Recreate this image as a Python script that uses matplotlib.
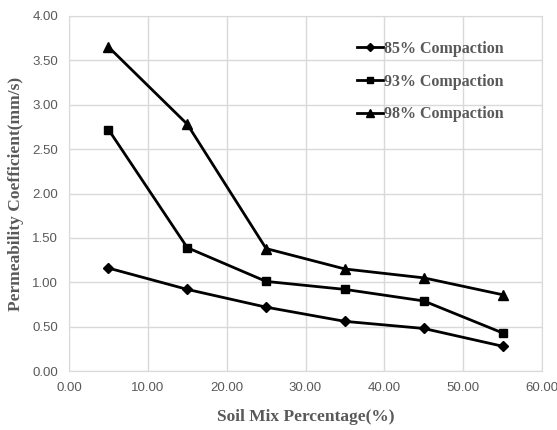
import matplotlib.pyplot as plt
import numpy as np

soil_mix = [5, 15, 25, 35, 45, 55]
k_85 = [1.16, 0.92, 0.72, 0.56, 0.48, 0.28]
k_93 = [2.72, 1.39, 1.01, 0.92, 0.79, 0.43]
k_98 = [3.65, 2.78, 1.38, 1.15, 1.05, 0.86]
series_labels = ['85% Compaction', '93% Compaction', '98% Compaction']

grey = '#595959'
grid_c = '#d9d9d9'

fig = plt.figure(figsize=(5.57, 4.3), dpi=100, facecolor='white')
ax = fig.add_axes([0.124, 0.137, 0.849, 0.826])

ax.plot(soil_mix, k_85, color='black', lw=2, marker='D', ms=5, label=series_labels[0])
ax.plot(soil_mix, k_93, color='black', lw=2, marker='s', ms=6, label=series_labels[1])
ax.plot(soil_mix, k_98, color='black', lw=2, marker='^', ms=7, label=series_labels[2])

ax.set_xlim(0, 60)
ax.set_ylim(0, 4)
ax.set_xticks(np.arange(0, 61, 10))
ax.set_yticks(np.arange(0, 4.01, 0.5))
ax.set_xticklabels([f'{v:.2f}' for v in np.arange(0, 61, 10)])
ax.set_yticklabels([f'{v:.2f}' for v in np.arange(0, 4.01, 0.5)])
ax.grid(True, color=grid_c, lw=1)
ax.set_axisbelow(True)
for s in ax.spines.values():
    s.set_color(grid_c)
ax.tick_params(length=0, colors=grey, labelsize=9.5, pad=8)
for lab in ax.get_xticklabels() + ax.get_yticklabels():
    lab.set_family('Liberation Sans')

ax.set_xlabel('Soil Mix Percentage(%)', family='Liberation Serif', fontweight='bold',
              fontsize=12.5, color=grey, labelpad=11)
ax.set_ylabel('Permeability Coefficient(mm/s)', family='Liberation Serif', fontweight='bold',
              fontsize=12.5, color=grey, labelpad=6)

leg = ax.legend(loc='upper right', bbox_to_anchor=(0.95, 0.97), frameon=False,
                prop={'family': 'Liberation Serif', 'weight': 'bold', 'size': 11.5},
                handlelength=1.6, handletextpad=0.1, labelspacing=1.05, markerscale=0.8)
for t in leg.get_texts():
    t.set_color(grey)

fig.savefig('out.png', dpi=100, facecolor='white')
